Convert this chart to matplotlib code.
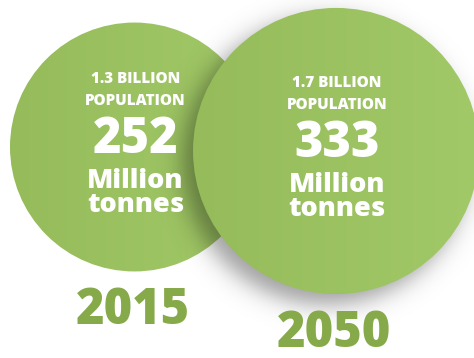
import numpy as np
import matplotlib.pyplot as plt
from matplotlib.patches import Circle

plt.rcParams['font.family'] = ['Open Sans', 'DejaVu Sans']

# data
years = ['2015', '2050']
population = ['1.3 BILLION', '1.7 BILLION']
tonnes = [252, 333]  # million tonnes

W, H = 474, 358
fig = plt.figure(figsize=(W / 100, H / 100), dpi=100)
ax = fig.add_axes([0, 0, 1, 1])
ax.set_xlim(0, W)
ax.set_ylim(H, 0)
ax.axis('off')

# bubble area proportional to tonnes
k = 7.84
radii = [k * np.sqrt(t) for t in tonnes]
centers = [(10 + radii[0], 147), (193 + radii[1], 151)]

yy, xx = np.mgrid[0:H, 0:W] + 0.5


def green_disc(cx, cy, r, z):
    # left-to-right gradient clipped to the circle
    t = np.clip((xx - (cx - r)) / (2 * r), 0, 1)
    c0 = np.array([0x95, 0xbb, 0x5a]) / 255
    c1 = np.array([0xa2, 0xc9, 0x68]) / 255
    img = c0[None, None, :] * (1 - t[..., None]) + c1[None, None, :] * t[..., None]
    im = ax.imshow(img, extent=(0, W, H, 0), zorder=z, interpolation='bilinear')
    im.set_clip_path(Circle((cx, cy), r, transform=ax.transData))


def shadow(cx, cy, r, z):
    sx, sy = cx - 10, cy + 10
    d = np.hypot(xx - sx, yy - sy)
    a = 0.38 / (1 + np.exp((d - r) / 7))
    img = np.zeros((H, W, 4))
    img[..., 3] = a
    ax.imshow(img, extent=(0, W, H, 0), zorder=z, interpolation='bilinear')


green_disc(*centers[0], radii[0], 1)
shadow(*centers[1], radii[1], 2)
green_disc(*centers[1], radii[1], 3)

txt = dict(ha='center', va='center', color='white', fontweight='heavy', zorder=5)
for i, ((cx, cy), r) in enumerate(zip(centers, radii)):
    ax.text(cx + 1, cy - 68, population[i], fontsize=11, **txt)
    ax.text(cx + 1, cy - 46, 'POPULATION', fontsize=11, **txt)
    ax.text(cx + 1, cy - 7, str(tonnes[i]), fontsize=35, **txt)
    ax.text(cx + 1, cy + 34, 'Million', fontsize=19.5, **txt)
    ax.text(cx + 1, cy + 58, 'tonnes', fontsize=19.5, **txt)
    ax.text(cx - 2, cy + r + 40, years[i], ha='center', va='center',
            color='#86a94a', fontsize=35, fontweight='heavy', zorder=5)

fig.savefig('out.png', dpi=100)
